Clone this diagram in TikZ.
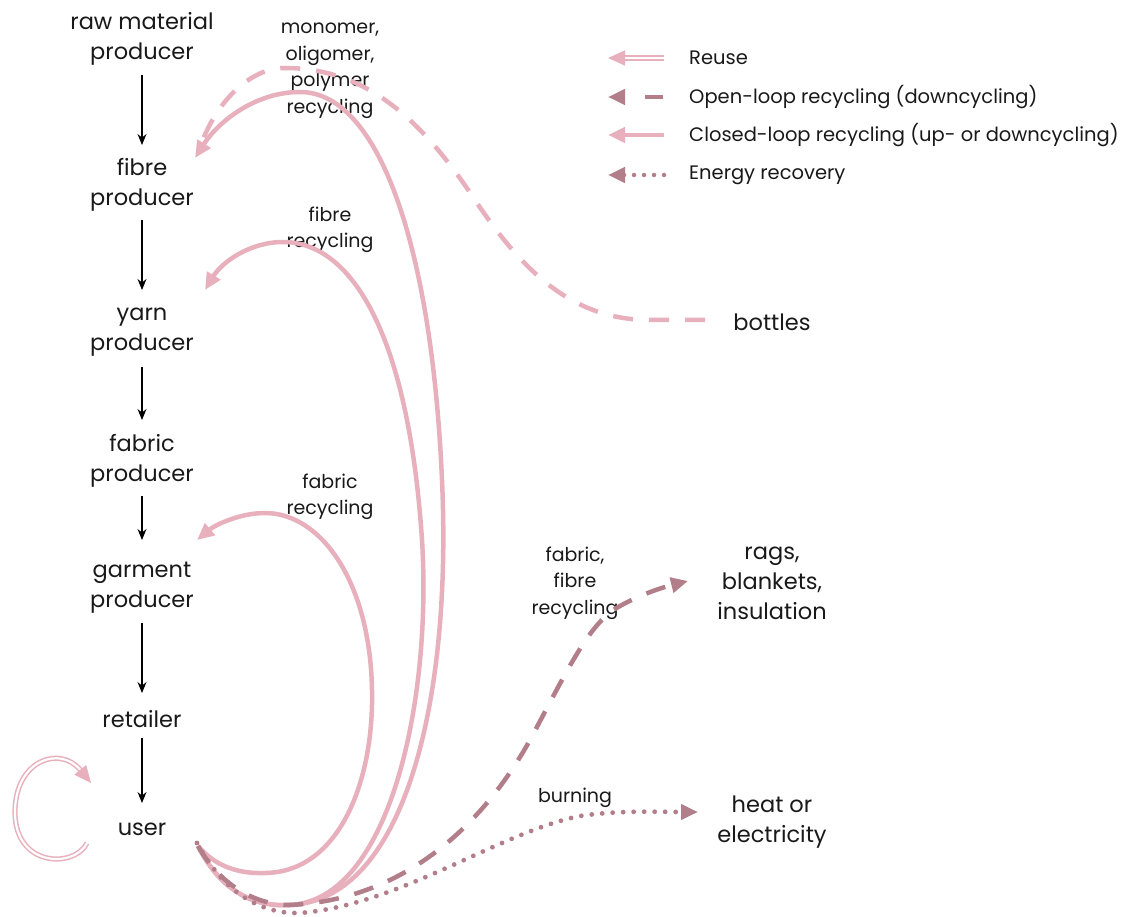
\documentclass[tikz,border=0pt]{standalone}
\usepackage{fontspec}
\setmainfont{Poppins}
\usetikzlibrary{arrows.meta}
\definecolor{pinkc}{RGB}{232,176,188}
\definecolor{mauve}{RGB}{178,126,138}
\definecolor{txt}{RGB}{25,25,25}
\begin{document}
\begin{tikzpicture}[x=1pt,y=-1pt,
  main/.style={align=center,font=\fontsize{22.5}{30}\selectfont,text=txt,inner sep=0pt},
  lbl/.style={align=center,font=\fontsize{19}{26.5}\selectfont,text=txt,inner sep=0pt},
  leg/.style={anchor=west,font=\fontsize{19.5}{20}\selectfont,text=txt,inner sep=0pt},
  flow/.style={-{Stealth[length=11pt,width=9pt]},line width=1.1pt,black},
  closed/.style={pinkc,line width=4.5pt,-{Triangle[length=17pt,width=15pt]}},
  bottle/.style={pinkc,line width=4.5pt,dash pattern=on 20pt off 16pt},
  openl/.style={mauve,line width=4.5pt,dash pattern=on 20pt off 16pt,-{Triangle[length=17pt,width=15pt]}},
  energy/.style={mauve,line width=4.8pt,line cap=round,dash pattern=on 0pt off 10.5pt,-{Triangle[length=17pt,width=15pt]}},
  reuse/.style={pinkc,double=white,double distance=2.2pt,line width=1.5pt,-{Triangle[length=17pt,width=15pt,fill=pinkc]}}
]
\path[use as bounding box] (0,0) rectangle (1136,917);

% chain nodes
\node[main] (raw) at (142,39) {raw material\\producer};
\node[main] (fibre) at (142,185) {fibre\\producer};
\node[main] (yarn) at (142,332) {yarn\\producer};
\node[main] (fabric) at (142,461) {fabric\\producer};
\node[main] (garment) at (142,588) {garment\\producer};
\node[main] (retail) at (142,719) {retailer};
\node[main] (user) at (142,829) {user};

\draw[flow] (142,75) -- (142,145);
\draw[flow] (142,220) -- (142,290);
\draw[flow] (142,367) -- (142,420);
\draw[flow] (142,496) -- (142,540);
\draw[flow] (142,623) -- (142,693);
\draw[flow] (142,738) -- (142,803);

% right nodes
\node[main] (bottles) at (772,322) {bottles};
\node[main] (rags) at (772,583) {rags,\\blankets,\\insulation};
\node[main] (heat) at (772,822) {heat or\\electricity};

% labels
\node[lbl] (lmono) at (330,71) {monomer,\\oligomer,\\polymer\\recycling};
\node[lbl] (lfibre) at (330,230) {fibre\\recycling};
\node[lbl] (lfabric) at (330,497) {fabric\\recycling};
\node[lbl] (lff) at (575,583) {fabric,\\fibre\\recycling};
\node[lbl] (lburn) at (575,798) {burning};

% coordinates
\coordinate (us) at (198,846);
\coordinate (fibreIn) at (195,158);
\coordinate (yarnIn) at (205,290);
\coordinate (garmIn) at (197,540);
\coordinate (ragsIn) at (688,581);
\coordinate (heatIn) at (698,812);
\coordinate (botOut) at (705,320);

% reuse loop
\coordinate (ru1) at (87,843);
\coordinate (ru2) at (91,783);
\draw[reuse] (ru1) .. controls (75,868) and (15,868) .. (15,812) .. controls (15,760) and (60,745) .. (ru2);

% bottles dashed
\draw[bottle] (botOut) -- (650,320) .. controls (575,320) and (525,275) .. (475,200) .. controls (425,125) and (370,68) .. (285,68) .. controls (245,68) and (212,110) .. (200,148);

% closed loops
\draw[closed] (us) .. controls (222,893) and (255,907) .. (290,905) .. controls (405,900) and (452,700) .. (442,480) .. controls (432,250) and (380,92) .. (300,92) .. controls (255,92) and (218,122) .. (fibreIn);
\draw[closed] (us) .. controls (222,893) and (255,907) .. (290,905) .. controls (390,900) and (432,700) .. (422,540) .. controls (408,330) and (350,242) .. (283,242) .. controls (250,242) and (222,262) .. (yarnIn);
\draw[closed] (us) .. controls (215,866) and (238,874) .. (265,873) .. controls (340,872) and (374,780) .. (372,690) .. controls (370,580) and (320,513) .. (265,513) .. controls (240,513) and (215,525) .. (garmIn);

% open loop
\draw[openl] (us) .. controls (222,888) and (258,905) .. (290,905) .. controls (400,900) and (480,830) .. (530,740) .. controls (570,665) and (590,622) .. (620,606) .. controls (640,595) and (660,588) .. (ragsIn);

% energy
\draw[energy] (197,843) .. controls (228,900) and (268,914) .. (300,913) .. controls (400,905) and (500,832) .. (580,816) .. controls (620,810) and (660,812) .. (heatIn);

% legend
\coordinate (a1) at (608,58);
\coordinate (a2) at (608,97);
\coordinate (a3) at (608,135);
\coordinate (a4) at (608,175);
\draw[reuse] (664,58) -- (a1);
\draw[mauve,line width=4.5pt,dash pattern=on 18pt off 40pt,-{Triangle[length=17pt,width=15pt]}] (663,97) -- (a2);
\draw[pinkc,line width=4.5pt,-{Triangle[length=17pt,width=15pt]}] (664,135) -- (a3);
\draw[mauve,line width=4.5pt,line cap=round,dash pattern=on 0pt off 10pt,-{Triangle[length=17pt,width=15pt]}] (664,175) -- (a4);
\node[leg] (t1) at (689,58) {Reuse};
\node[leg] (t2) at (689,97) {Open-loop recycling (downcycling)};
\node[leg] (t3) at (689,135) {Closed-loop recycling (up- or downcycling)};
\node[leg] (t4) at (689,175) {Energy recovery};
\end{tikzpicture}
\end{document}
